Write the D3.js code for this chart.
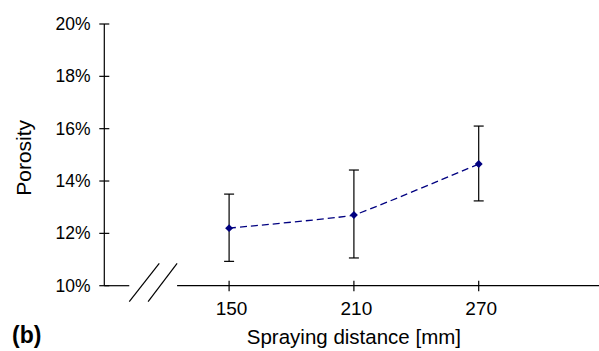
<!DOCTYPE html>
<html>
<head>
<meta charset="utf-8">
<script src="https://cdn.jsdelivr.net/npm/d3@7"></script>
<style>
  html, body { margin: 0; padding: 0; background: #fff; }
  svg { display: block; }
  text { font-family: "Liberation Sans", Arial, Helvetica, sans-serif; fill: #000; }
</style>
</head>
<body>
<svg id="chart" width="599" height="351"></svg>
<script>
// Spraying distance (mm) and measured porosity (%), with error-bar bounds
const distances = [150, 210, 270];
const porosity = [12.2, 12.7, 14.65];
const porosityLow = [10.93, 11.06, 13.24];
const porosityHigh = [13.5, 14.42, 16.1];
const yTicks = [10, 12, 14, 16, 18, 20];
const xTicks = [150, 210, 270];

const svg = d3.select("#chart");
const W = 599, H = 351;

const x = d3.scaleLinear().domain([90, 330]).range([104.3, 603.5]);
const y = d3.scaleLinear().domain([10, 20]).range([285.7, 24]);

// axis break position on the distance axis (domain units)
const breakFrom = 102, breakTo = 125;

const g = svg.append("g");

// y axis line
g.append("line")
  .attr("x1", x(90)).attr("x2", x(90))
  .attr("y1", y(20)).attr("y2", y(10))
  .attr("stroke", "#000").attr("stroke-width", 1.2);

// y ticks and labels
yTicks.forEach(v => {
  g.append("line")
    .attr("x1", x(90) - 5).attr("x2", x(90) + 5)
    .attr("y1", y(v)).attr("y2", y(v))
    .attr("stroke", "#000").attr("stroke-width", 1.2);
  g.append("text")
    .attr("x", 90.5).attr("y", y(v) + 6)
    .attr("text-anchor", "end")
    .attr("font-size", 17.5)
    .text(v + "%");
});

// x axis, drawn in two pieces around the break
g.append("line")
  .attr("x1", x(90)).attr("x2", x(breakFrom))
  .attr("y1", y(10)).attr("y2", y(10))
  .attr("stroke", "#000").attr("stroke-width", 1.2);
g.append("line")
  .attr("x1", x(breakTo)).attr("x2", W + 5)
  .attr("y1", y(10)).attr("y2", y(10))
  .attr("stroke", "#000").attr("stroke-width", 1.2);

// break marks
[[x(breakFrom), x(breakFrom) + 30], [x(breakTo) - 29, x(breakTo)]].forEach(([xb, xt]) => {
  g.append("line")
    .attr("x1", xb).attr("y1", y(10) + 16)
    .attr("x2", xt).attr("y2", y(10) - 22.4)
    .attr("stroke", "#000").attr("stroke-width", 1.2);
});

// x ticks and labels
xTicks.forEach(v => {
  g.append("line")
    .attr("x1", x(v)).attr("x2", x(v))
    .attr("y1", y(10) - 5).attr("y2", y(10) + 5.5)
    .attr("stroke", "#000").attr("stroke-width", 1.2);
  g.append("text")
    .attr("x", x(v) + 2.5).attr("y", 315)
    .attr("text-anchor", "middle")
    .attr("font-size", 19)
    .text(v);
});

// error bars
distances.forEach((d, i) => {
  const cx = x(d);
  g.append("line")
    .attr("x1", cx).attr("x2", cx)
    .attr("y1", y(porosityLow[i])).attr("y2", y(porosityHigh[i]))
    .attr("stroke", "#000").attr("stroke-width", 1.2);
  [porosityLow[i], porosityHigh[i]].forEach(v => {
    g.append("line")
      .attr("x1", cx - 5).attr("x2", cx + 5)
      .attr("y1", y(v)).attr("y2", y(v))
      .attr("stroke", "#000").attr("stroke-width", 1.2);
  });
});

// lightly smoothed dashed series line
const line = d3.line()
  .x((d, i) => x(distances[i]))
  .y(d => y(d))
  .curve(d3.curveCardinal.tension(0.75));
g.append("path")
  .datum(porosity)
  .attr("d", line)
  .attr("fill", "none")
  .attr("stroke", "#000080")
  .attr("stroke-width", 1.3)
  .attr("stroke-dasharray", "7,4");

// diamond markers
const diamond = d3.symbol().type(d3.symbolDiamond2).size(40);
g.selectAll("path.marker")
  .data(porosity)
  .join("path")
  .attr("class", "marker")
  .attr("transform", (d, i) => `translate(${x(distances[i])},${y(d)})`)
  .attr("d", diamond)
  .attr("fill", "#000080");

// axis titles
g.append("text")
  .attr("transform", `translate(31,${(y(10) + y(20)) / 2 + 3}) rotate(-90)`)
  .attr("text-anchor", "middle")
  .attr("font-size", 21)
  .text("Porosity");

g.append("text")
  .attr("x", x(210)).attr("y", 344)
  .attr("text-anchor", "middle")
  .attr("font-size", 20.5)
  .text("Spraying distance [mm]");

g.append("text")
  .attr("x", 12).attr("y", 343)
  .attr("font-size", 23)
  .attr("font-weight", "bold")
  .text("(b)");
</script>
</body>
</html>
